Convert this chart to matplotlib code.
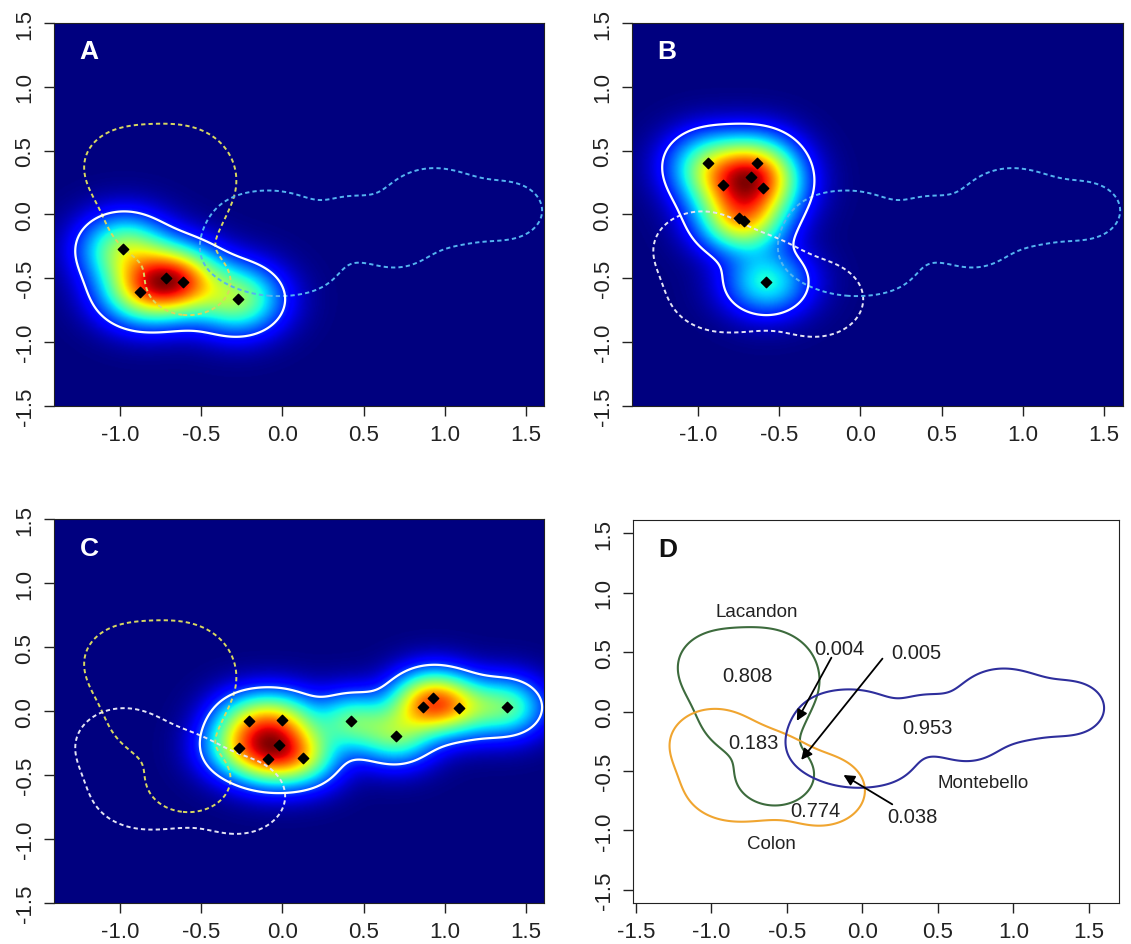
import numpy as np
import matplotlib.pyplot as plt
from matplotlib.colors import PowerNorm

plt.rcParams['font.family'] = ['Liberation Sans', 'DejaVu Sans']
plt.rcParams['lines.dashed_pattern'] = [2.2, 1.6]

# group scores (axis 1, axis 2)
colon_x = [-0.98, -0.715, -0.615, -0.875, -0.275]
colon_y = [-0.27, -0.50, -0.53, -0.605, -0.665]
lacandon_x = [-0.94, -0.64, -0.675, -0.85, -0.60, -0.75, -0.72, -0.58]
lacandon_y = [0.405, 0.405, 0.29, 0.23, 0.21, -0.03, -0.05, -0.53]
monte_x = [-0.205, 0.0, -0.27, -0.02, -0.09, 0.13, 0.425, 0.70, 0.865, 0.93, 1.09, 1.385]
monte_y = [-0.08, -0.07, -0.29, -0.265, -0.375, -0.365, -0.08, -0.195, 0.035, 0.105, 0.025, 0.03]

group_names = ['Lacandon', 'Colon', 'Montebello']
overlap_vals = ['0.808', '0.004', '0.005', '0.953', '0.183', '0.774', '0.038']

ticks = [-1.5, -1.0, -0.5, 0.0, 0.5, 1.0, 1.5]


def kde(xs, ys, bw, gx, gy):
    X, Y = np.meshgrid(gx, gy)
    z = np.zeros_like(X)
    for x, y in zip(xs, ys):
        z += np.exp(-((X - x) ** 2 + (Y - y) ** 2) / (2 * bw ** 2))
    return z


gx = np.linspace(-1.7, 1.8, 500)
gy = np.linspace(-1.7, 1.7, 500)
z_col = kde(colon_x, colon_y, 0.17, gx, gy)
z_lac = kde(lacandon_x, lacandon_y, 0.165, gx, gy)
z_mon = kde(monte_x, monte_y, 0.15, gx, gy)
lev_col, lev_lac, lev_mon = 0.23, 0.29, 0.36

col_lac_dot = '#d8d860'
col_col_dot = '#e4e4f4'
col_mon_dot = '#55b4f0'

fig = plt.figure(figsize=(11.31, 9.45), dpi=100)
axA = fig.add_axes([0.0474, 0.5696, 0.434, 0.405])
axB = fig.add_axes([0.5585, 0.5696, 0.434, 0.405])
axC = fig.add_axes([0.0474, 0.0434, 0.434, 0.406])
axD = fig.add_axes([0.5595, 0.0434, 0.4300, 0.405])


def style(ax, xlim, ylim):
    ax.set_xlim(*xlim)
    ax.set_ylim(*ylim)
    ax.set_xticks([t for t in ticks if xlim[0] <= t <= xlim[1]])
    ax.set_yticks(ticks)
    ax.set_xticklabels([f'{t:.1f}' for t in ax.get_xticks()])
    ax.set_yticklabels([f'{t:.1f}' for t in ticks], rotation=90, va='center')
    ax.tick_params(direction='out', length=7, width=1, labelsize=16,
                   color='#222222', labelcolor='#222222', pad=6)
    for s in ax.spines.values():
        s.set_color('#222222')


def heat_panel(ax, z, lev, px, py, others, letter):
    ax.imshow(z / z.max(), cmap='jet', norm=PowerNorm(0.75, vmin=0, vmax=1),
              origin='lower', extent=(gx[0], gx[-1], gy[0], gy[-1]),
              aspect='auto', interpolation='bilinear')
    for zo, lv, c in others:
        ax.contour(gx, gy, zo, levels=[lv], colors=c, linewidths=1.4,
                   linestyles='dashed')
    ax.contour(gx, gy, z, levels=[lev], colors='white', linewidths=1.6)
    ax.scatter(px, py, marker='D', s=28, color='black', zorder=5)
    ax.text(0.053, 0.926, letter, transform=ax.transAxes, color='white',
            fontsize=19, fontweight='bold', va='center')
    style(ax, (-1.41, 1.615), (-1.5, 1.5))


heat_panel(axA, z_col, lev_col, colon_x, colon_y,
           [(z_lac, lev_lac, col_lac_dot), (z_mon, lev_mon, col_mon_dot)], 'A')
heat_panel(axB, z_lac, lev_lac, lacandon_x, lacandon_y,
           [(z_col, lev_col, col_col_dot), (z_mon, lev_mon, col_mon_dot)], 'B')
heat_panel(axC, z_mon, lev_mon, monte_x, monte_y,
           [(z_lac, lev_lac, col_lac_dot), (z_col, lev_col, col_col_dot)], 'C')

# panel D: outlines of the three groups and overlap values
axD.contour(gx, gy, z_lac, levels=[lev_lac], colors='#3d6b3d', linewidths=1.5)
axD.contour(gx, gy, z_col, levels=[lev_col], colors='#f0a530', linewidths=1.5)
axD.contour(gx, gy, z_mon, levels=[lev_mon], colors='#2e2e9c', linewidths=1.5)
style(axD, (-1.52, 1.70), (-1.61, 1.61))
axD.text(0.053, 0.926, 'D', transform=axD.transAxes, color='#111111',
         fontsize=19, fontweight='bold', va='center')

name_pos = [(-0.70, 0.84), (-0.60, -1.11), (0.80, -0.60)]
for name, (x, y) in zip(group_names, name_pos):
    axD.text(x, y, name, fontsize=13.5, ha='center', va='center', color='#222222')

val_pos = [(-0.76, 0.30), (-0.15, 0.53), (0.36, 0.50), (0.43, -0.135),
           (-0.72, -0.26), (-0.31, -0.835), (0.33, -0.88)]
for v, (x, y) in zip(overlap_vals, val_pos):
    axD.text(x, y, v, fontsize=14.5, ha='center', va='center', color='#222222')

arrows = [((-0.205, 0.454), (-0.434, -0.078)),
          ((0.133, 0.446), (-0.405, -0.406)),
          ((0.198, -0.78), (-0.125, -0.533))]
for (x0, y0), (x1, y1) in arrows:
    axD.annotate('', xy=(x1, y1), xytext=(x0, y0),
                 arrowprops=dict(arrowstyle='-|>', color='black', lw=1.3,
                                 mutation_scale=16, shrinkA=0, shrinkB=0))

fig.savefig('out.png', dpi=100)
